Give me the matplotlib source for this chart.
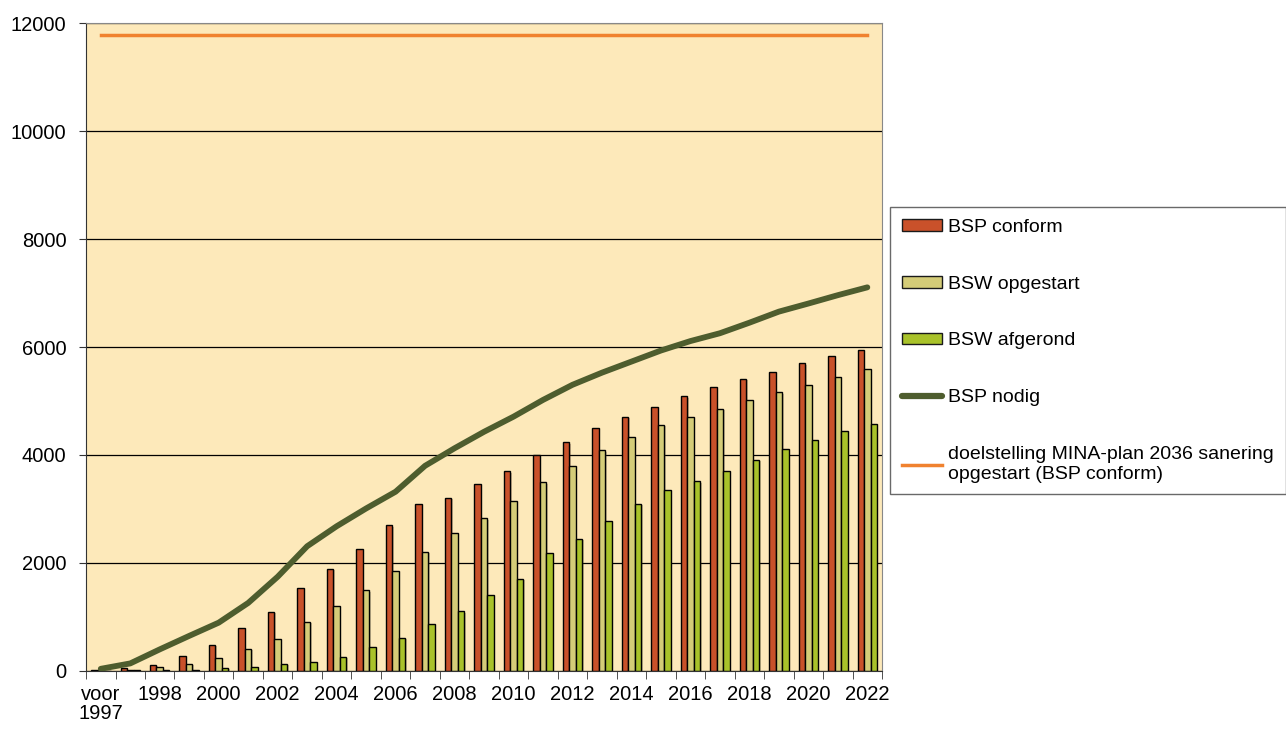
import numpy as np
import matplotlib
matplotlib.use("Agg")
import matplotlib.pyplot as plt
import matplotlib.patheffects as pe
from matplotlib.patches import Patch
from matplotlib.lines import Line2D

plt.rcParams['font.family'] = ['Liberation Sans', 'DejaVu Sans']

years = ["voor\n1997"] + [str(y) for y in range(1997, 2023)]

# bodemsaneringsprojecten / -werken (aantallen)
bsp_conform = [10, 50, 110, 285, 490, 790, 1100, 1530, 1895, 2250,
               2700, 3095, 3210, 3455, 3700, 3995, 4235, 4500, 4710,
               4895, 5085, 5260, 5410, 5545, 5700, 5830, 5945]
bsw_opgestart = [5, 20, 75, 130, 240, 415, 585, 910, 1210, 1495,
                 1845, 2205, 2550, 2825, 3155, 3495, 3795, 4085, 4330,
                 4555, 4710, 4860, 5015, 5160, 5300, 5450, 5585]
bsw_afgerond = [2, 10, 25, 18, 55, 75, 130, 175, 260, 435,
                610, 875, 1105, 1405, 1710, 2185, 2450, 2770, 3095,
                3345, 3515, 3705, 3910, 4105, 4270, 4445, 4575]
bsp_nodig = [40, 140, 400, 650, 895, 1260, 1745, 2310, 2680, 3010,
             3320, 3800, 4125, 4430, 4710, 5020, 5300, 5525, 5730,
             5935, 6110, 6255, 6450, 6655, 6805, 6960, 7105]
doelstelling = 11780

x = np.arange(len(years))
w = 0.22
shadow = [pe.SimplePatchShadow(offset=(1, -1), alpha=0.25), pe.Normal()]

fig = plt.figure(figsize=(12.86, 7.29), dpi=100)
ax = fig.add_axes([0.0669, 0.0796, 0.619, 0.8888])
ax.set_facecolor("#FDE9BA")

ax.set_axisbelow(True)
ax.yaxis.grid(True, color="black", lw=0.9)

b1 = ax.bar(x - w, bsp_conform, w, color="#C9512A", edgecolor="black", lw=1.0, zorder=2)
b2 = ax.bar(x, bsw_opgestart, w, color="#D4CC78", edgecolor="black", lw=1.0, zorder=2)
b3 = ax.bar(x + w, bsw_afgerond, w, color="#A9C22A", edgecolor="black", lw=1.0, zorder=2)
for bars in (b1, b2, b3):
    for b in bars:
        b.set_path_effects(shadow)

ax.plot(x, bsp_nodig, color="#4E5D2E", lw=4.2, solid_capstyle="round",
        solid_joinstyle="round", zorder=4)
ax.plot([x[0], x[-1]], [doelstelling, doelstelling], color="#F0822F", lw=2.5, zorder=4)

ax.set_xlim(-0.5, len(years) - 0.5)
ax.set_ylim(0, 12000)
ax.set_yticks(np.arange(0, 12001, 2000))
ax.tick_params(axis="y", labelsize=14.5, length=5, color="#333333", pad=9)

ax.set_xticks(x[::2])
ax.set_xticklabels(years[::2], fontsize=14.5)
ax.set_xticks(np.arange(-0.5, len(years)), minor=True)
ax.tick_params(axis="x", which="major", length=0, pad=10)
ax.tick_params(axis="x", which="minor", length=6, color="#333333")
for lab in ax.get_xticklabels():
    lab.set_linespacing(1.0)

for s in ("left", "bottom"):
    ax.spines[s].set_color("#333333")
for s in ("top", "right"):
    ax.spines[s].set_color("#888888")

handles = [
    Patch(facecolor="#C9512A", edgecolor="#1a1a1a"),
    Patch(facecolor="#D4CC78", edgecolor="#1a1a1a"),
    Patch(facecolor="#A9C22A", edgecolor="#1a1a1a"),
    Line2D([0], [0], color="#4E5D2E", lw=4.5, solid_capstyle="round"),
    Line2D([0], [0], color="#F0822F", lw=2.5),
]
labels = ["BSP conform", "BSW opgestart", "BSW afgerond", "BSP nodig",
          "doelstelling MINA-plan 2036 sanering\nopgestart (BSP conform)"]
leg = fig.legend(handles, labels, loc="upper left", bbox_to_anchor=(0.692, 0.716),
                 fontsize=14, frameon=True, fancybox=False, edgecolor="#444444",
                 labelspacing=2.05, handlelength=2.1, handletextpad=0.3,
                 borderpad=0.6, handleheight=0.55, borderaxespad=0)
leg.get_frame().set_linewidth(1.0)

fig.savefig("out.png", dpi=100)
